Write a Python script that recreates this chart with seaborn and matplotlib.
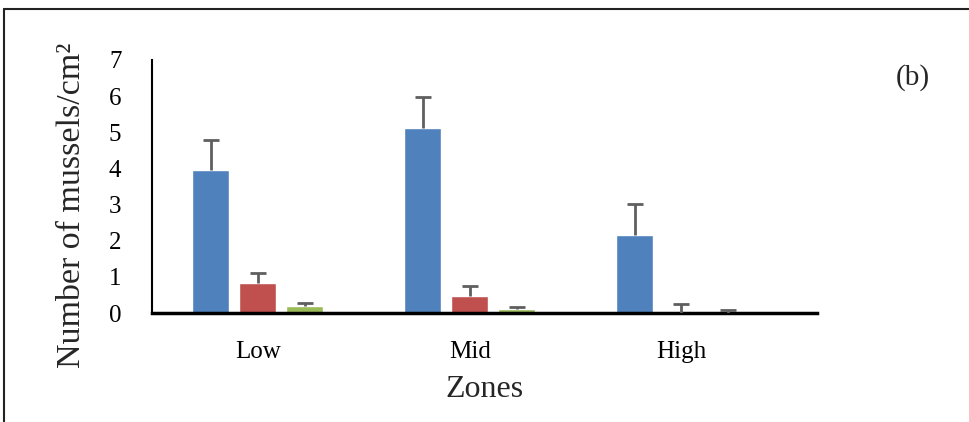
import matplotlib
matplotlib.use("Agg")
import matplotlib.pyplot as plt
from matplotlib.lines import Line2D
import numpy as np
import pandas as pd
import seaborn as sns

zones = ["Low", "Mid", "High"]
series = ["Series 1", "Series 2", "Series 3"]
colors = ["#4F81BD", "#C0504D", "#9BBB59"]

means_s1 = [3.95, 5.12, 2.16]
means_s2 = [0.83, 0.47, 0.0]
means_s3 = [0.19, 0.11, 0.0]
err_s1 = [0.85, 0.86, 0.86]
err_s2 = [0.27, 0.28, 0.25]
err_s3 = [0.08, 0.06, 0.08]

means = [means_s1, means_s2, means_s3]
errs = [err_s1, err_s2, err_s3]

rows = []
for s, vals in zip(series, means):
    for z, v in zip(zones, vals):
        rows.append({"zone": z, "series": s, "value": v})
df = pd.DataFrame(rows)

sns.set_style("white")
plt.rcParams["font.family"] = ["Liberation Serif", "DejaVu Serif"]

fig = plt.figure(figsize=(9.69, 4.22), dpi=100)
ax = fig.add_axes([152 / 969, 1 - 313 / 422, 665 / 969, 253 / 422])

sns.barplot(data=df, x="zone", y="value", hue="series", order=zones,
            hue_order=series, palette=colors, width=0.665, gap=0.21,
            errorbar=None, saturation=1, ax=ax, legend=False)

# upward-only error bars on each bar
for container, err in zip(list(ax.containers), errs):
    xs = [b.get_x() + b.get_width() / 2 for b in container]
    hs = [b.get_height() for b in container]
    _, caps, _ = ax.errorbar(xs, hs, yerr=[np.zeros(len(err)), err],
                             fmt="none", ecolor="#5f5f5f", elinewidth=2,
                             capsize=6, capthick=2, zorder=3)
    caps[0].set_visible(False)

ax.set_ylim(0, 7)
ax.set_yticks(range(0, 8))
ax.set_xlim(-0.5, 2.64)
ax.tick_params(axis="both", length=0, labelsize=18, colors="black")
ax.tick_params(axis="y", pad=22)
ax.tick_params(axis="x", pad=20)
ax.set_xlabel("Zones", fontsize=23, labelpad=9)
ax.set_ylabel("Number of mussels/cm\u00b2", fontsize=24.5, labelpad=16)
ax.yaxis.label.set_y(0.425)

for side in ["top", "right"]:
    ax.spines[side].set_visible(False)
ax.spines["left"].set_color("black")
ax.spines["left"].set_linewidth(1.5)
ax.spines["bottom"].set_color("black")
ax.spines["bottom"].set_linewidth(2.5)

fig.text(913 / 969, 1 - 78 / 422, "(b)", fontsize=21, ha="center", va="center")

# frame around the panel
fig.add_artist(Line2D([4 / 969, 4 / 969], [0, 1 - 9 / 422], color="#222222",
                      linewidth=1.5, transform=fig.transFigure))
fig.add_artist(Line2D([4 / 969, 1], [1 - 9 / 422, 1 - 9 / 422], color="#222222",
                      linewidth=1.5, transform=fig.transFigure))

fig.savefig("out.png", dpi=100)
